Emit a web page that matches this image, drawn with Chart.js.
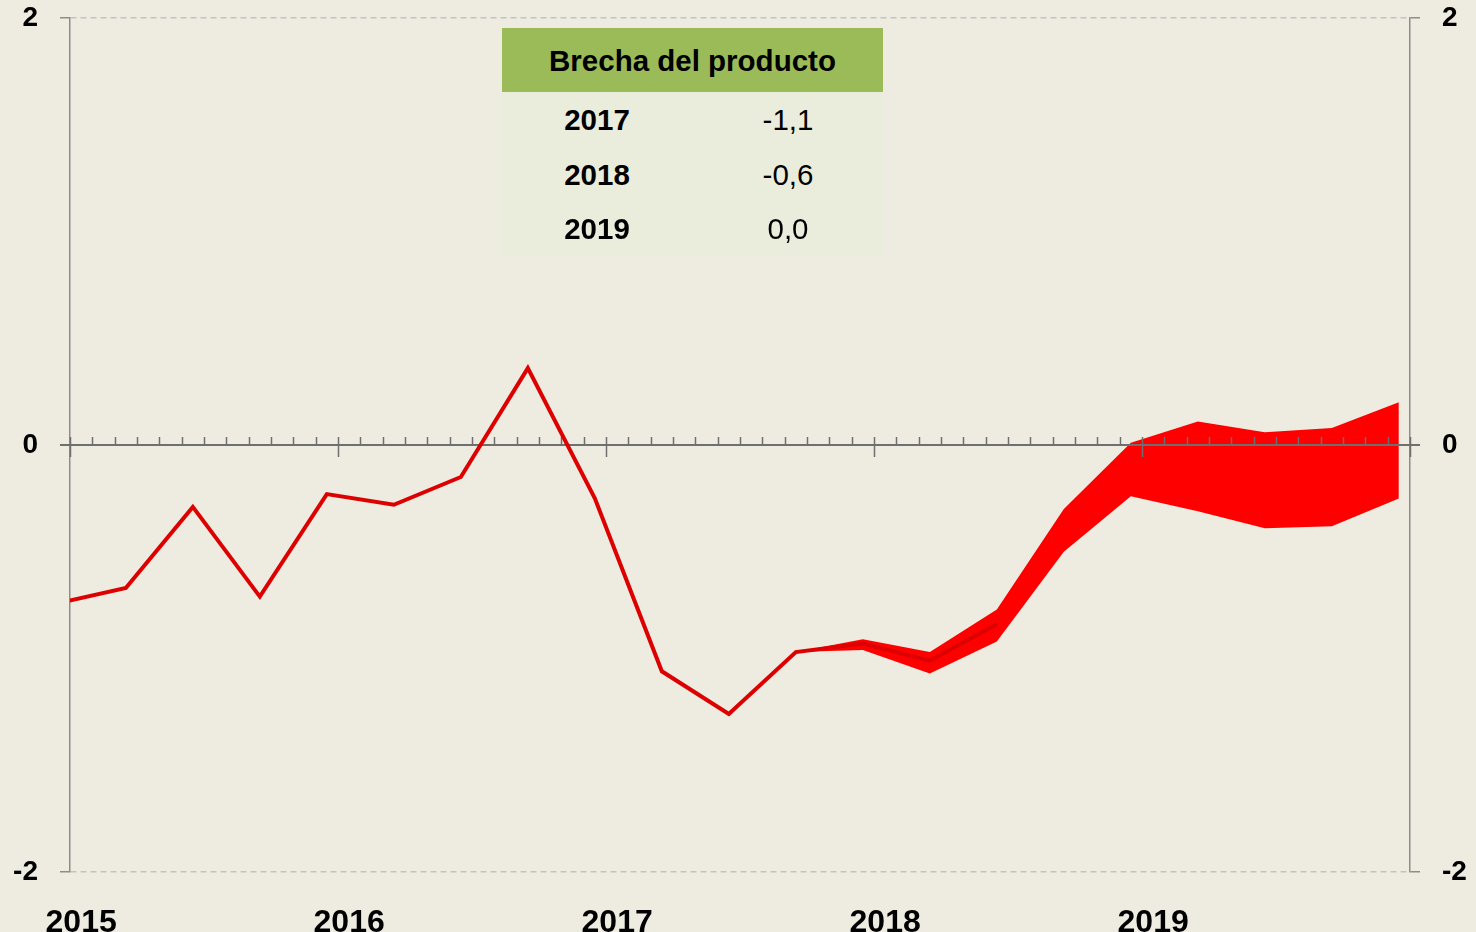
<!DOCTYPE html>
<html>
<head>
<meta charset="utf-8">
<script src="https://cdn.jsdelivr.net/npm/chart.js@4"></script>
<style>
  body { margin: 0; background: #eeebe0; }
  .wrap { position: relative; width: 1476px; height: 932px; }
  .tabla {
    position: absolute; left: 502px; top: 28px; width: 381px;
    font-family: "Liberation Sans", Arial, sans-serif; font-size: 29.5px; color: #000;
    background: #ebeddc;
  }
  .tabla .cab { background: #9bbb59; height: 64px; line-height: 66px; text-align: center; font-weight: bold; }
  .tabla .fila { height: 54.5px; line-height: 56px; position: relative; }
  .tabla .anio { position: absolute; left: 95px; width: 0; font-weight: bold; }
  .tabla .anio span, .tabla .val span { position: absolute; transform: translateX(-50%); white-space: nowrap; }
  .tabla .val { position: absolute; left: 286px; width: 0; }
  .tabla .pie { height: 0px; }
</style>
</head>
<body>
<div class="wrap">
  <canvas id="grafico" width="1476" height="932"></canvas>
  <div class="tabla" id="tabla">
    <div class="cab">Brecha del producto</div>
  </div>
</div>
<script>
// anni mostrati sull'asse e mese di inizio
const anni = ["2015", "2016", "2017", "2018", "2019"];
const inizioAnno = [0, 12, 24, 36, 48];

// brecha observada (trimestral, mes dentro del eje)
const mesiLinea = [-0.5, 2.5, 5.5, 8.5, 11.5, 14.5, 17.5, 20.5, 23.5, 26.5, 29.5, 32.5, 35.5, 38.5, 41.5];
const brecha = [-0.74, -0.67, -0.29, -0.71, -0.23, -0.28, -0.15, 0.36, -0.25, -1.06, -1.26, -0.97, -0.93, -1.01, -0.84];

// banda de proyeccion
const mesiBanda = [32.5, 35.5, 38.5, 41.5, 44.5, 47.5, 50.5, 53.5, 56.5, 59.5];
const bandaSup = [-0.97, -0.91, -0.97, -0.77, -0.30, 0.01, 0.11, 0.06, 0.08, 0.20];
const bandaInf = [-0.97, -0.96, -1.07, -0.92, -0.50, -0.24, -0.31, -0.39, -0.38, -0.25];

// tabla
const anniTabla = ["2017", "2018", "2019"];
const valoriTabla = ["-1,1", "-0,6", "0,0"];

const tabla = document.getElementById("tabla");
anniTabla.forEach(function (a, i) {
  const riga = document.createElement("div");
  riga.className = "fila";
  riga.innerHTML = '<div class="anio"><span>' + a + '</span></div><div class="val"><span>' + valoriTabla[i] + '</span></div>';
  tabla.appendChild(riga);
});
const pie = document.createElement("div");
pie.className = "pie";
tabla.appendChild(pie);

const font = "'Liberation Sans', Arial, sans-serif";

// linea dello zero con le tacche mensili
const asseZero = {
  id: "asseZero",
  afterDatasetDraw(chart, args) {
    if (args.index !== 1) return;
    const x = chart.scales.x, y = chart.scales.y;
    const ctx = chart.ctx;
    const y0 = y.getPixelForValue(0);
    ctx.save();
    ctx.strokeStyle = "#6f6f6f";
    ctx.lineWidth = 2;
    ctx.beginPath();
    ctx.moveTo(chart.chartArea.left - 10, y0);
    ctx.lineTo(chart.chartArea.right + 10, y0);
    ctx.stroke();
    ctx.lineWidth = 1.5;
    for (let m = 0; m <= 60; m++) {
      const px = Math.round(x.getPixelForValue(m)) + 0.5;
      ctx.beginPath();
      ctx.moveTo(px, y0 - 8);
      ctx.lineTo(px, m % 12 === 0 ? y0 + 12 : y0);
      ctx.stroke();
    }
    ctx.restore();
  },
};

const yComune = {
  min: -2,
  max: 2,
  grid: {
    color: (c) => (c.tick && c.tick.value === 0 ? "rgba(0,0,0,0)" : "#c3c3c3"),
    lineWidth: 1.5,
    tickLength: 10,
    tickColor: "#8c8c8c",
    tickWidth: 1.5,
    tickBorderDash: [],
  },
  border: { color: "#8c8c8c", width: 1.5, dash: [6, 4] },
  ticks: {
    stepSize: 2,
    padding: 22,
    color: "#000",
    font: { family: font, size: 28, weight: "bold" },
  },
};

function fitY(w) {
  return (s) => {
    s.width = w;
    s.paddingTop = 0;
    s.paddingBottom = 0;
  };
}

const config = {
  type: "line",
  data: {
    datasets: [
      {
        data: mesiLinea.map((m, i) => ({ x: m, y: brecha[i] })),
        borderColor: "#dd0000",
        borderWidth: 4,
        pointRadius: 0,
        fill: false,
        tension: 0,
      },
      {
        data: mesiBanda.map((m, i) => ({ x: m, y: bandaSup[i] })),
        borderWidth: 0,
        borderColor: "#ff0000",
        backgroundColor: "#ff0000",
        pointRadius: 0,
        fill: 2,
        tension: 0,
      },
      {
        data: mesiBanda.map((m, i) => ({ x: m, y: bandaInf[i] })),
        borderWidth: 0,
        borderColor: "#ff0000",
        pointRadius: 0,
        fill: false,
        tension: 0,
      },
    ],
  },
  options: {
    responsive: false,
    animation: false,
    layout: { padding: { top: 18, bottom: 0, left: 0, right: 0 } },
    plugins: {
      legend: { display: false },
      tooltip: { enabled: false },
    },
    scales: {
      x: {
        type: "linear",
        min: 0,
        max: 60,
        afterBuildTicks: (s) => {
          s.ticks = inizioAnno.map((m) => ({ value: m + 0.5 }));
        },
        afterFit: (s) => {
          s.height = 60;
          s.paddingLeft = 0;
          s.paddingRight = 0;
        },
        grid: { display: false },
        border: { display: false },
        ticks: {
          autoSkip: false,
          maxRotation: 0,
          padding: 24,
          color: "#000",
          font: { family: font, size: 32, weight: "bold" },
          callback: (v) => anni[Math.floor(v / 12)],
        },
      },
      y: Object.assign({}, yComune, {
        position: "left",
        afterFit: fitY(70),
      }),
      y2: Object.assign({}, yComune, {
        position: "right",
        afterFit: fitY(66),
        grid: Object.assign({}, yComune.grid, { drawOnChartArea: false }),
      }),
    },
  },
  plugins: [asseZero],
};

const grafico = new Chart(document.getElementById("grafico"), config);
</script>
</body>
</html>
